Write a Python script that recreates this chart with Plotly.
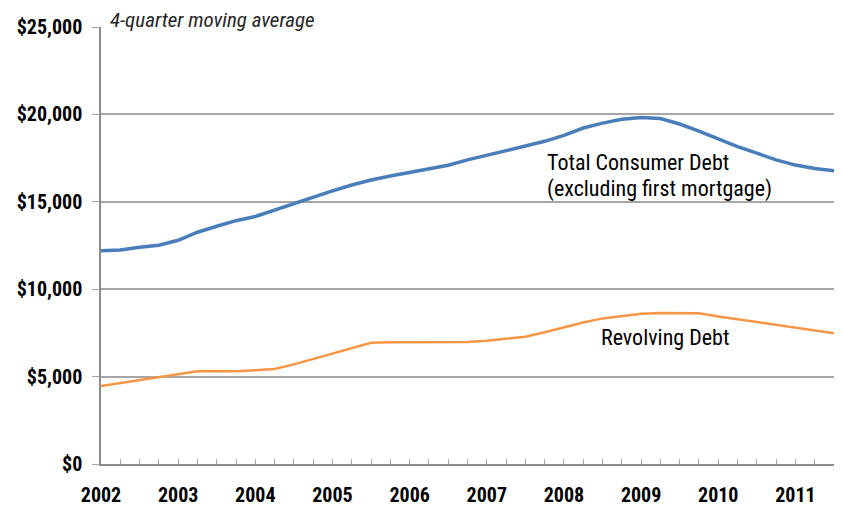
"""
Consumer debt per capita, 4-quarter moving average
"""
import plotly.graph_objects as go

START_YEAR = 2002
YEARS = list(range(2002, 2012))
TOTAL_DEBT = [12200, 12240, 12400, 12520, 12800, 13260, 13600, 13920, 14160, 14530,
              14930, 15280, 15620, 15960, 16250, 16480, 16680, 16880, 17090, 17400,
              17650, 17900, 18190, 18460, 18800, 19220, 19500, 19720, 19820, 19760,
              19450, 19050, 18600, 18160, 17780, 17400, 17100, 16900, 16780]
REVOLVING_DEBT = [4460, 4620, 4790, 4950, 5130, 5300, 5300, 5300, 5370, 5430,
                  5700, 6010, 6330, 6650, 6930, 6970, 6980, 6980, 6980, 6980,
                  7050, 7150, 7280, 7540, 7820, 8090, 8330, 8470, 8590, 8640,
                  8650, 8620, 8440, 8280, 8120, 7950, 7780, 7620, 7480]
quarters = [START_YEAR + i / 4 for i in range(len(TOTAL_DEBT))]

FONT = "Liberation Sans Narrow, Arial Narrow, Roboto Condensed, Liberation Sans, sans-serif"
GRID = "#a6a6a6"

fig = go.Figure()

fig.add_trace(go.Scatter(
    x=quarters, y=TOTAL_DEBT, mode="lines",
    line=dict(color="#4a7ebb", width=3.5),
    showlegend=False, name="Total Consumer Debt"))

fig.add_trace(go.Scatter(
    x=quarters, y=REVOLVING_DEBT, mode="lines",
    line=dict(color="#f79646", width=2.5),
    showlegend=False, name="Revolving Debt"))

fig.update_xaxes(
    range=[START_YEAR, START_YEAR + 9.5],
    tickvals=YEARS,
    ticktext=[str(y) for y in YEARS],
    ticks="inside", ticklen=5, tickcolor=GRID,
    minor=dict(dtick=0.25, tick0=START_YEAR, ticks="inside", ticklen=5, tickcolor=GRID),
    showline=True, linecolor="#8c8c8c", linewidth=2,
    showgrid=False, zeroline=False,
    ticklabelstandoff=12,
    automargin=False,
    tickfont=dict(family=FONT, size=20, color="black", weight="bold"),
)

fig.update_yaxes(
    range=[0, 25000],
    dtick=5000,
    tickprefix="$", tickformat=",d",
    ticks="outside", ticklen=7, tickcolor=GRID,
    showline=True, linecolor="#8c8c8c", linewidth=1.5,
    showgrid=True, gridcolor=GRID, gridwidth=1.5,
    zeroline=False,
    ticklabelstandoff=6,
    automargin=False,
    tickfont=dict(family=FONT, size=20, color="black", weight="bold"),
)

fig.add_annotation(
    xref="paper", yref="paper", x=0.01, y=1.0, yshift=-7,
    xanchor="left", yanchor="bottom", showarrow=False,
    text="<i>4-quarter moving average</i>",
    font=dict(family=FONT, size=21, color="#262626"))

# the two-line label is placed line by line to get Excel's tighter spacing
fig.add_annotation(
    x=2007.76, y=17250, xanchor="left", yanchor="middle", showarrow=False,
    text="Total Consumer Debt",
    font=dict(family=FONT, size=22, color="black"))
fig.add_annotation(
    x=2007.76, y=15750, xanchor="left", yanchor="middle", showarrow=False,
    text="(excluding first mortgage)",
    font=dict(family=FONT, size=22, color="black"))

fig.add_annotation(
    x=2008.45, y=7250, xanchor="left", yanchor="middle", showarrow=False,
    text="Revolving Debt",
    font=dict(family=FONT, size=22, color="black"))

# page body adds an 8px offset, so the figure is sized to fit inside the window
fig.update_layout(
    width=835, height=506,
    margin=dict(l=93, r=9, t=19, b=50),
    plot_bgcolor="white", paper_bgcolor="white",
)

fig.write_html("out.html")
